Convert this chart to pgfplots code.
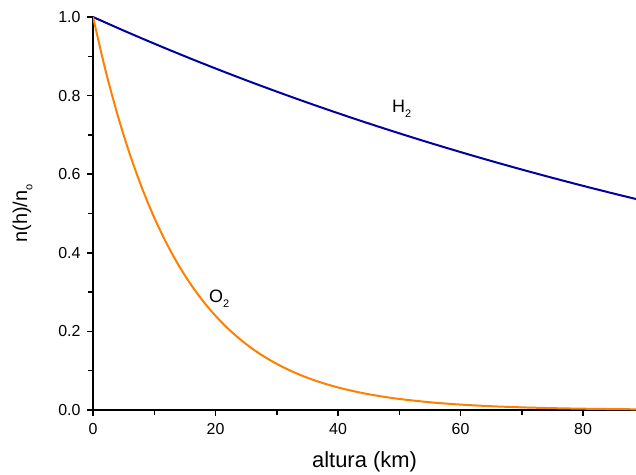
\documentclass[border=0pt]{standalone}
\usepackage{fontspec}
\setmainfont{Liberation Sans}
\usepackage{pgfplots}
\pgfplotsset{compat=1.18}
\definecolor{h2blue}{RGB}{0,0,160}
\definecolor{o2orange}{RGB}{255,128,0}
\newcommand{\sub}[1]{\raisebox{-0.5ex}{\fontsize{11}{12}\selectfont #1}}
\begin{document}
\begin{tikzpicture}[x=1bp,y=1bp]
\useasboundingbox (-93bp,-65bp) rectangle (543bp,410bp);
\begin{axis}[
  scale only axis,
  width=543bp, height=393bp,
  xmin=0, xmax=88.65, ymin=0, ymax=1,
  axis x line*=bottom, axis y line*=left,
  axis line style={-, line width=1.5pt},
  xtick={0,20,40,60,80},
  minor xtick={10,30,50,70},
  ytick={0,0.2,0.4,0.6,0.8,1.0},
  minor ytick={0.1,0.3,0.5,0.7,0.9},
  tick align=outside,
  major tick length=6bp, minor tick length=5bp,
  tick style={line width=1.5pt, black},
  /pgf/number format/assume math mode=true,
  ticklabel style={font=\fontsize{16}{18}\selectfont},
  xticklabel style={yshift=-4bp},
  yticklabel style={xshift=-3bp, /pgf/number format/.cd, fixed, fixed zerofill, precision=1},
  xlabel={altura (km)},
  ylabel={n(h)/n\sub{o}},
  xlabel style={font=\fontsize{22}{24}\selectfont},
  ylabel style={font=\fontsize{20}{22}\selectfont},
  xlabel shift=10bp,
  ylabel shift=19bp,
  clip=true,
]
\addplot[color=h2blue, line width=2pt, smooth] coordinates {
(0,1) (5,0.96551) (10,0.93223) (15,0.90008) (20,0.86905) (25,0.83908) (30,0.81016)
(35,0.78221) (40,0.75526) (45,0.72920) (50,0.70407) (55,0.67978) (60,0.65636)
(65,0.63371) (70,0.61187) (75,0.59077) (80,0.57041) (85,0.55073) (90,0.53175)
};
\addplot[color=o2orange, line width=2pt, smooth] coordinates {
(0,1) (2,0.86688) (4,0.75148) (6,0.65144) (8,0.56472) (10,0.48955) (12,0.42438)
(14,0.36788) (16,0.31891) (18,0.27646) (20,0.23966) (22,0.20776) (24,0.18010)
(26,0.15613) (28,0.13534) (30,0.11733) (32,0.10171) (34,0.08817) (36,0.07643)
(38,0.06626) (40,0.05744) (42,0.04979) (44,0.04316) (46,0.03742) (48,0.03244)
(50,0.02812) (55,0.01967) (60,0.01376) (65,0.00962) (70,0.00674) (75,0.00471)
(80,0.00330) (85,0.00231) (90,0.00161)
};
\node[font=\fontsize{18}{20}\selectfont] at (axis cs:50.4,0.767) {H\sub{2}};
\node[font=\fontsize{18}{20}\selectfont] at (axis cs:20.6,0.284) {O\sub{2}};
\end{axis}
\end{tikzpicture}
\end{document}
